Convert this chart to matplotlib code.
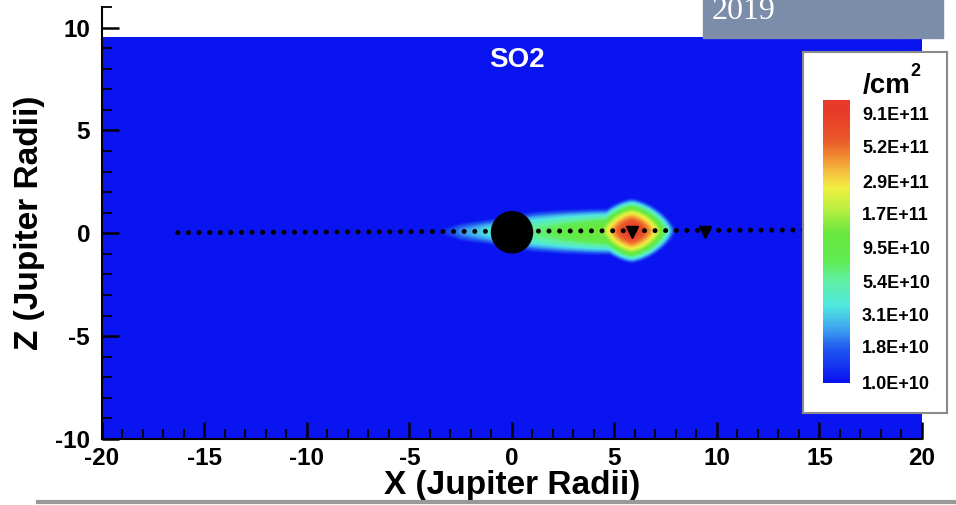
import numpy as np
import matplotlib
matplotlib.use('Agg')
import matplotlib.pyplot as plt
from matplotlib.colors import LinearSegmentedColormap
from matplotlib.patches import Circle, Rectangle
from matplotlib.lines import Line2D
from matplotlib.ticker import MultipleLocator

plt.rcParams['font.family'] = ['Liberation Sans', 'DejaVu Sans']
plt.rcParams['font.weight'] = 'bold'
plt.rcParams['axes.unicode_minus'] = False

# colour bar levels (/cm^2)
cbar_labels = ['1.0E+10', '1.8E+10', '3.1E+10', '5.4E+10', '9.5E+10',
               '1.7E+11', '2.9E+11', '5.2E+11', '9.1E+11']
# tecplot-like rainbow, position along the bar -> colour
cmap_pos = [0.0, 0.12, 0.20, 0.28, 0.38, 0.45, 0.55, 0.65, 0.72, 0.78, 0.85, 0.90, 1.0]
cmap_colors = ['#0a14f0', '#2058f0', '#40a8f0', '#50e8e0', '#60f0a0', '#60ec50',
               '#68e840', '#c0f040', '#f0f040', '#f5c040', '#f08030', '#eb5a2a',
               '#e83a28']

# SO2 plume along the equator: centre-line column density and half thickness
tongue_x = [-3.6, -2.5, -1.0, 1.0, 2.5, 4.0, 5.0, 6.5]
tongue_peak = [1.0e10, 2.2e10, 3.8e10, 6.0e10, 8.5e10, 1.2e11, 1.5e11, 1.0e10]
tongue_halfwidth = [0.1, 0.45, 0.65, 1.0, 1.1, 1.15, 1.15, 1.0]
tongue_z = 0.05

# Io torus peak
blob_x, blob_z = 5.85, 0.1
blob_peak = 9.1e11
blob_rx, blob_rz = 2.15, 1.6

# moons and orbit line
moon_x = [5.85, 9.4]
moon_z = [0.05, 0.05]
orbit_x = [-16.3, 16.3]
orbit_z = [0.03, 0.17]

lo = np.log10(float(cbar_labels[0]))
hi = np.log10(float(cbar_labels[-1]))
span = hi - lo

xg = np.linspace(-20, 20, 801)
zg = np.linspace(-10, 9.5, 391)
X, Z = np.meshgrid(xg, zg)

pk = np.interp(X, tongue_x, np.log10(tongue_peak), left=lo, right=lo)
hw = np.interp(X, tongue_x, tongue_halfwidth, left=0.01, right=0.01)
t_tongue = (pk - lo) / span * np.clip(1 - ((Z - tongue_z) / hw) ** 2, 0, 1)

p = 1.5
d = ((np.abs(X - blob_x) / blob_rx) ** p + (np.abs(Z - blob_z) / blob_rz) ** p) ** (1 / p)
t_blob = (np.log10(blob_peak) - lo) / span * np.clip(1 - d ** 2, 0, 1)

field = lo + span * np.clip(np.maximum(t_tongue, t_blob), 0, 1)

cmap = LinearSegmentedColormap.from_list('rainbow_tp', list(zip(cmap_pos, cmap_colors)))

fig = plt.figure(figsize=(9.56, 5.05), dpi=100)
ax = fig.add_axes([0.10669, 0.13069, 0.85774, 0.85545])
ax.imshow(field, extent=(-20, 20, -10, 9.5), origin='lower', aspect='auto',
          cmap=cmap, vmin=lo, vmax=hi, interpolation='bilinear', zorder=1)
ax.set_xlim(-20, 20)
ax.set_ylim(-10, 11)

ax.plot(orbit_x, orbit_z, color='black', lw=3.6, ls=(0, (0.001, 2.12)),
        dash_capstyle='round', zorder=3)
ax.add_patch(Circle((0, 0.05), 1.0, color='black', zorder=4))
ax.plot(moon_x, moon_z, 'v', color='black', ms=9, zorder=4)
ax.text(0.25, 8.4, 'SO2', color='white', fontsize=20, fontweight='bold',
        ha='center', va='center', zorder=5)

for s in ['top', 'right']:
    ax.spines[s].set_visible(False)
for s in ['left', 'bottom']:
    ax.spines[s].set_linewidth(1.5)
ax.xaxis.set_major_locator(MultipleLocator(5))
ax.xaxis.set_minor_locator(MultipleLocator(1))
ax.yaxis.set_major_locator(MultipleLocator(5))
ax.yaxis.set_minor_locator(MultipleLocator(1))
ax.set_yticks([-10, -5, 0, 5, 10])
ax.tick_params(which='major', direction='in', length=12, width=1.8, labelsize=17.5)
ax.tick_params(which='minor', direction='in', length=7.5, width=1.3)
ax.tick_params(axis='x', which='major', pad=6)
ax.tick_params(axis='y', which='major', pad=8.6)
ax.set_xlabel('X (Jupiter Radii)', fontsize=24, fontweight='bold', labelpad=0)
ax.set_ylabel('Z (Jupiter Radii)', fontsize=24, fontweight='bold', labelpad=7)

# colour bar box
box = fig.add_axes([0.840, 0.1822, 0.1506, 0.7149], zorder=10)
box.set_xticks([])
box.set_yticks([])
for s in box.spines.values():
    s.set_color('#8a8a8a')
    s.set_linewidth(1.5)

cax = fig.add_axes([0.8609, 0.2416, 0.0272, 0.5604], zorder=11)
vals = np.log10([float(v) for v in cbar_labels])
k = (vals[-1] - vals[0]) / (0.954 - 0.0035)
ylo = vals[0] - 0.0035 * k
yhi = ylo + k
grad = np.linspace(ylo, yhi, 300).reshape(-1, 1)
cax.imshow(grad, extent=(0, 1, ylo, yhi), origin='lower', aspect='auto',
           cmap=cmap, vmin=lo, vmax=hi)
cax.set_ylim(ylo, yhi)
cax.set_xticks([])
cax.yaxis.tick_right()
cax.set_yticks(vals)
cax.set_yticklabels(cbar_labels)
cax.tick_params(axis='y', length=0, pad=9.4, labelsize=13)
for s in cax.spines.values():
    s.set_visible(False)
fig.text(0.9027, 1 - 93 / 505, '/cm', fontsize=20, fontweight='bold',
         va='baseline', ha='left', zorder=12)
fig.text(910 / 956, 1 - 76 / 505, '2', fontsize=13, fontweight='bold',
         va='baseline', ha='left', zorder=12)

# banner and rule from the slide
fig.patches.append(Rectangle((703 / 956, 1 - 38 / 505), 240 / 956, 38 / 505,
                             transform=fig.transFigure, color='#7b8da9', zorder=20))
fig.text(712 / 956, 1 - 19 / 505, '2019', color='white', fontsize=23,
         family='Liberation Serif', fontweight='normal', va='baseline', zorder=21)
fig.lines.append(Line2D([38 / 956, 1], [1 - 502 / 505] * 2, transform=fig.transFigure,
                        color='#999999', lw=3))

fig.savefig('out.png', dpi=100)
